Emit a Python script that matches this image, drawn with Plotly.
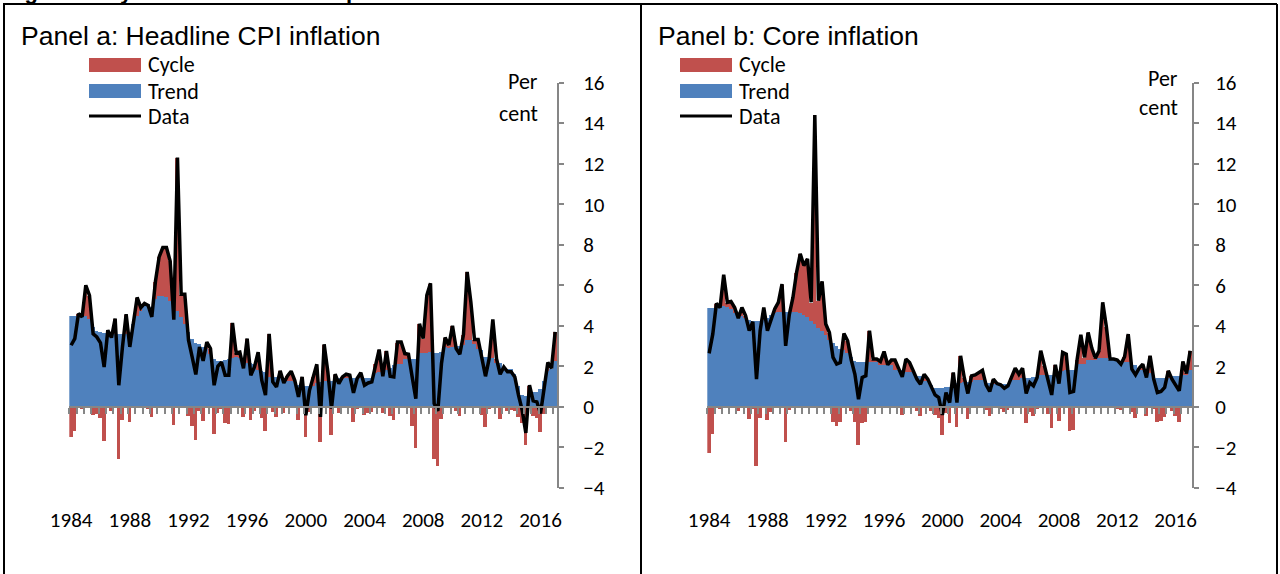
import plotly.graph_objects as go

W, H = 1280, 574

# quarterly observations, 1984Q1 to 2017Q1
quarters = [1984 + q / 4 for q in range(133)]
year_ticks = [1984, 1988, 1992, 1996, 2000, 2004, 2008, 2012, 2016]
y_ticks = [-4, -2, 0, 2, 4, 6, 8, 10, 12, 14, 16]

headline_data = [
    3.04, 3.37, 4.6, 4.44, 6.0, 5.5, 3.6, 3.45, 3.16, 1.97,
    3.78, 3.42, 4.36, 1.07, 2.96, 4.57, 2.96, 4.1, 5.4, 4.9,
    5.1, 5.0, 4.44, 6.2, 7.4, 7.86, 7.86, 7.2, 4.3, 12.3,
    5.56, 5.56, 3.3, 2.47, 1.6, 2.96, 2.27, 3.2, 2.88, 1.07,
    2.0, 2.2, 1.56, 1.56, 4.14, 2.66, 2.7, 1.9, 3.37, 1.56,
    1.97, 2.7, 1.3, 0.58, 3.6, 1.23, 0.99, 1.78, 1.18, 1.53,
    1.76, 1.3, 0.49, 1.48, -0.41, 0.82, 1.48, 2.1, -0.49, 3.09,
    1.73, -0.08, 1.61, 1.15, 1.48, 1.61, 1.56, 0.69, 1.4, 1.69,
    1.07, 1.18, 1.23, 2.14, 2.83, 1.51, 2.76, 1.51, 1.48, 3.2,
    3.2, 2.63, 2.6, 1.48, 0.41, 4.1, 3.37, 5.5, 6.1, 0.16,
    -0.2, 2.14, 3.42, 3.04, 4.0, 2.88, 2.6, 3.57, 6.66, 5.18,
    3.32, 3.32, 2.47, 1.51, 2.38, 4.31, 2.38, 1.61, 1.97, 1.73,
    1.73, 1.48, 0.58, -0.16, -1.28, 1.07, 0.3, 0.25, -0.33, 0.99,
    2.19, 1.9, 3.7,
]
headline_trend = [
    4.52, 4.52, 4.52, 4.52, 4.5, 4.36, 3.95, 3.78, 3.7, 3.65,
    3.6, 3.6, 3.6, 3.6, 3.6, 3.6, 3.7, 4.1, 4.5, 4.77,
    5.0, 5.1, 4.93, 5.35, 5.48, 5.48, 5.43, 5.26, 5.18, 4.77,
    4.44, 4.1, 3.7, 3.37, 3.2, 3.12, 2.96, 2.88, 2.63, 2.38,
    2.3, 2.3, 2.35, 2.4, 2.45, 2.47, 2.45, 2.38, 2.2, 2.2,
    2.15, 1.85, 1.8, 1.75, 1.5, 1.48, 1.48, 1.46, 1.45, 1.32,
    1.3, 1.28, 1.1, 1.07, 1.05, 1.05, 1.07, 1.2, 1.23, 1.3,
    1.3, 1.3, 1.32, 1.43, 1.43, 1.43, 1.44, 1.43, 1.45, 1.45,
    1.45, 1.46, 1.47, 1.7, 1.75, 1.78, 1.85, 1.95, 2.1, 2.14,
    2.14, 2.38, 2.38, 2.38, 2.4, 2.7, 2.7, 2.7, 2.72, 2.7,
    2.7, 2.72, 2.96, 2.96, 2.98, 3.04, 3.04, 3.06, 3.3, 3.3,
    3.15, 2.9, 2.85, 2.5, 2.47, 2.45, 2.2, 2.2, 1.95, 1.9,
    1.88, 1.64, 1.07, 0.6, 0.58, 0.49, 0.74, 0.75, 0.9, 1.3,
    1.8, 1.9, 2.3,
]

core_data = [
    2.64, 3.59, 5.1, 4.9, 6.52, 5.16, 5.2, 4.9, 4.38, 4.9,
    4.5, 3.76, 4.2, 1.37, 3.76, 4.9, 3.76, 4.33, 4.83, 5.16,
    6.06, 3.01, 4.55, 5.4, 6.64, 7.55, 6.97, 7.3, 5.16, 14.4,
    5.24, 6.19, 4.09, 3.67, 2.44, 2.11, 2.19, 3.62, 3.26, 2.31,
    1.61, 0.38, 1.45, 1.53, 3.76, 2.36, 2.36, 2.24, 2.73, 2.08,
    2.31, 2.31, 1.86, 1.48, 2.36, 2.19, 1.78, 1.37, 1.12, 1.61,
    1.37, 0.96, 0.59, 0.46, -0.4, 0.71, 0.21, 1.7, 0.21, 2.52,
    1.45, 0.66, 1.53, 1.58, 1.7, 1.81, 1.09, 0.76, 1.37, 1.15,
    1.09, 0.92, 1.04, 1.45, 1.91, 1.61, 1.91, 0.66, 1.2, 1.04,
    1.45, 2.77, 2.03, 1.29, 0.59, 2.08, 1.15, 2.69, 2.6, 0.71,
    0.76, 2.36, 3.56, 2.44, 3.67, 2.9, 2.4, 2.77, 5.16, 3.95,
    2.36, 2.36, 2.31, 2.11, 2.47, 3.59, 1.86, 1.58, 1.91, 2.11,
    1.45, 2.52, 1.37, 0.71, 0.76, 0.96, 1.78, 1.37, 1.09, 0.79,
    2.24, 1.65, 2.77,
]
core_trend = [
    4.9, 4.9, 4.9, 5.0, 5.02, 4.94, 4.83, 4.66, 4.55, 4.5,
    4.4, 4.33, 4.28, 4.28, 4.28, 4.33, 4.4, 4.55, 4.66, 4.7,
    4.7, 4.7, 4.7, 4.7, 4.7, 4.66, 4.58, 4.45, 4.28, 4.12,
    3.92, 3.76, 3.56, 3.34, 3.18, 3.01, 2.9, 2.85, 2.69, 2.47,
    2.31, 2.24, 2.24, 2.24, 2.24, 2.24, 2.24, 2.08, 2.08, 2.08,
    2.08, 1.86, 1.86, 1.86, 1.75, 1.75, 1.75, 1.53, 1.53, 1.32,
    1.32, 1.12, 0.96, 0.96, 0.96, 0.99, 0.99, 1.2, 1.2, 1.2,
    1.25, 1.25, 1.25, 1.37, 1.37, 1.37, 1.2, 1.2, 1.15, 1.15,
    1.15, 1.15, 1.15, 1.37, 1.37, 1.37, 1.45, 1.45, 1.45, 1.48,
    1.48, 1.61, 1.61, 1.61, 1.61, 1.81, 1.81, 1.81, 1.86, 1.86,
    1.86, 2.14, 2.14, 2.14, 2.36, 2.36, 2.36, 2.44, 2.44, 2.44,
    2.36, 2.36, 2.36, 2.24, 2.24, 2.24, 2.08, 2.08, 1.86, 1.86,
    1.86, 1.7, 1.45, 1.45, 1.45, 1.45, 1.45, 1.53, 1.53, 1.53,
    1.61, 1.61, 1.86,
]

# cycle is what is left of the data once the trend is taken out
headline_cycle = [round(d - t, 2) for d, t in zip(headline_data, headline_trend)]
core_cycle = [round(d - t, 2) for d, t in zip(core_data, core_trend)]

RED = "#C0504D"
BLUE = "#4F81BD"
GREY = "#868686"
CAL = "Carlito, Lato, sans-serif"
ARIAL = "Liberation Sans, Arial, sans-serif"


def px(x):
    return x / W


def py(y):
    return 1 - y / H


Y_TOP, Y_BOT = 82.5, 488.0
y_dom = [py(Y_BOT), py(Y_TOP)]
zero_pos = y_dom[0] + (y_dom[1] - y_dom[0]) * 4 / 20
x_range = [quarters[0] - 0.125, quarters[-1] + 0.125]
bounds = [quarters[0] - 0.125 + 0.5 * k for k in range(67)]

fig = go.Figure()

panels = [
    ("x", "y", "x3", headline_trend, headline_cycle, headline_data),
    ("x2", "y2", "x4", core_trend, core_cycle, core_data),
]
for xa, ya, xa_line, trend, cycle, data in panels:
    fig.add_trace(go.Bar(x=quarters, y=trend, name="Trend", marker_color=BLUE,
                         marker_line_width=0, width=0.25, xaxis=xa, yaxis=ya))
    fig.add_trace(go.Bar(x=quarters, y=cycle, name="Cycle", marker_color=RED,
                         marker_line_width=0, width=0.25, xaxis=xa, yaxis=ya))
    fig.add_trace(go.Scatter(x=quarters, y=data, name="Data", mode="lines",
                             line=dict(color="black", width=3.5),
                             xaxis=xa_line, yaxis=ya))

year_axis = dict(range=x_range, tickvals=year_ticks, ticktext=[str(y) for y in year_ticks],
                 showline=False, showgrid=False, zeroline=False, ticks="", automargin=False,
                 tickfont=dict(family=CAL, size=21, color="black"), ticklabelstandoff=17)
zero_axis = dict(range=x_range, tickvals=bounds, showticklabels=False, ticks="outside",
                 ticklen=6, tickwidth=1.5, tickcolor=GREY, showline=True, linecolor=GREY,
                 linewidth=2, showgrid=False, zeroline=False, anchor="free",
                 position=zero_pos, side="bottom", automargin=False)
val_axis = dict(range=[-4, 16], tickvals=y_ticks, side="right", ticks="outside", ticklen=5,
                tickwidth=1.5, tickcolor=GREY, showline=True, linecolor=GREY, linewidth=2,
                showgrid=False, zeroline=False, domain=y_dom, automargin=False,
                tickfont=dict(family=CAL, size=21, color="black"))

fig.update_layout(
    width=W, height=H, margin=dict(l=0, r=0, t=0, b=0, pad=0, autoexpand=False),
    paper_bgcolor="white", plot_bgcolor="rgba(0,0,0,0)",
    barmode="relative", bargap=0, showlegend=False,
    xaxis=dict(domain=[px(69.3), px(557)], anchor="y", **year_axis),
    xaxis2=dict(domain=[px(707.3), px(1192)], anchor="y2", **year_axis),
    xaxis3=dict(overlaying="x", **zero_axis),
    xaxis4=dict(overlaying="x2", **zero_axis),
    yaxis=dict(anchor="x", ticklabelstandoff=15, **val_axis),
    yaxis2=dict(anchor="x2", ticklabelstandoff=12, **val_axis),
)

# frame around the two panels
for x0, y0, x1, y1 in [(3, 4, 1277, 4), (4, 4, 4, 574), (1277, 4, 1277, 574), (641, 4, 641, 574)]:
    fig.add_shape(type="line", xref="paper", yref="paper", x0=px(x0), y0=py(y0),
                  x1=px(x1), y1=py(y1), line=dict(color="black", width=2))

fig.add_annotation(text="<b>Figure 1: Cycle and trend decomposition of inflation</b>",
                   xref="paper", yref="paper", x=px(3), y=py(6), xanchor="left",
                   yanchor="bottom", showarrow=False,
                   font=dict(family=ARIAL, size=22, color="black"))

titles = [("Panel a: Headline CPI inflation", 19), ("Panel b: Core inflation", 656)]
for text, x0 in titles:
    fig.add_annotation(text=text, xref="paper", yref="paper", x=px(x0), y=py(36),
                       xanchor="left", yanchor="middle", showarrow=False,
                       font=dict(family=ARIAL, size=26.5, color="black"))

# legend boxes drawn the way the spreadsheet draws them
legends = [(89, 141), (680, 732)]
rows = [("Cycle", 65, RED), ("Trend", 91, BLUE), ("Data", 116, None)]
for lx0, lx1 in legends:
    for label, ly, col in rows:
        if col:
            fig.add_shape(type="rect", xref="paper", yref="paper", x0=px(lx0), x1=px(lx1),
                          y0=py(ly + 7), y1=py(ly - 7), fillcolor=col, line_width=0)
        else:
            fig.add_shape(type="line", xref="paper", yref="paper", x0=px(lx0), x1=px(lx1),
                          y0=py(ly), y1=py(ly), line=dict(color="black", width=3))
        fig.add_annotation(text=label, xref="paper", yref="paper", x=px(lx1 + 5), y=py(ly),
                           xanchor="left", yanchor="middle", showarrow=False,
                           font=dict(family=CAL, size=22, color="black"))

units = [(540, 82, 113), (1180, 78, 107)]
for ux, uy1, uy2 in units:
    for word, uy in [("Per", uy1), ("cent", uy2)]:
        fig.add_annotation(text=word, xref="paper", yref="paper", x=px(ux), y=py(uy),
                           xanchor="right", yanchor="middle", showarrow=False,
                           font=dict(family=CAL, size=22, color="black"))

fig.write_html("out.html", config={"displayModeBar": False},
               post_script="document.body.style.margin='0';"
                           "document.body.style.overflow='hidden';")
